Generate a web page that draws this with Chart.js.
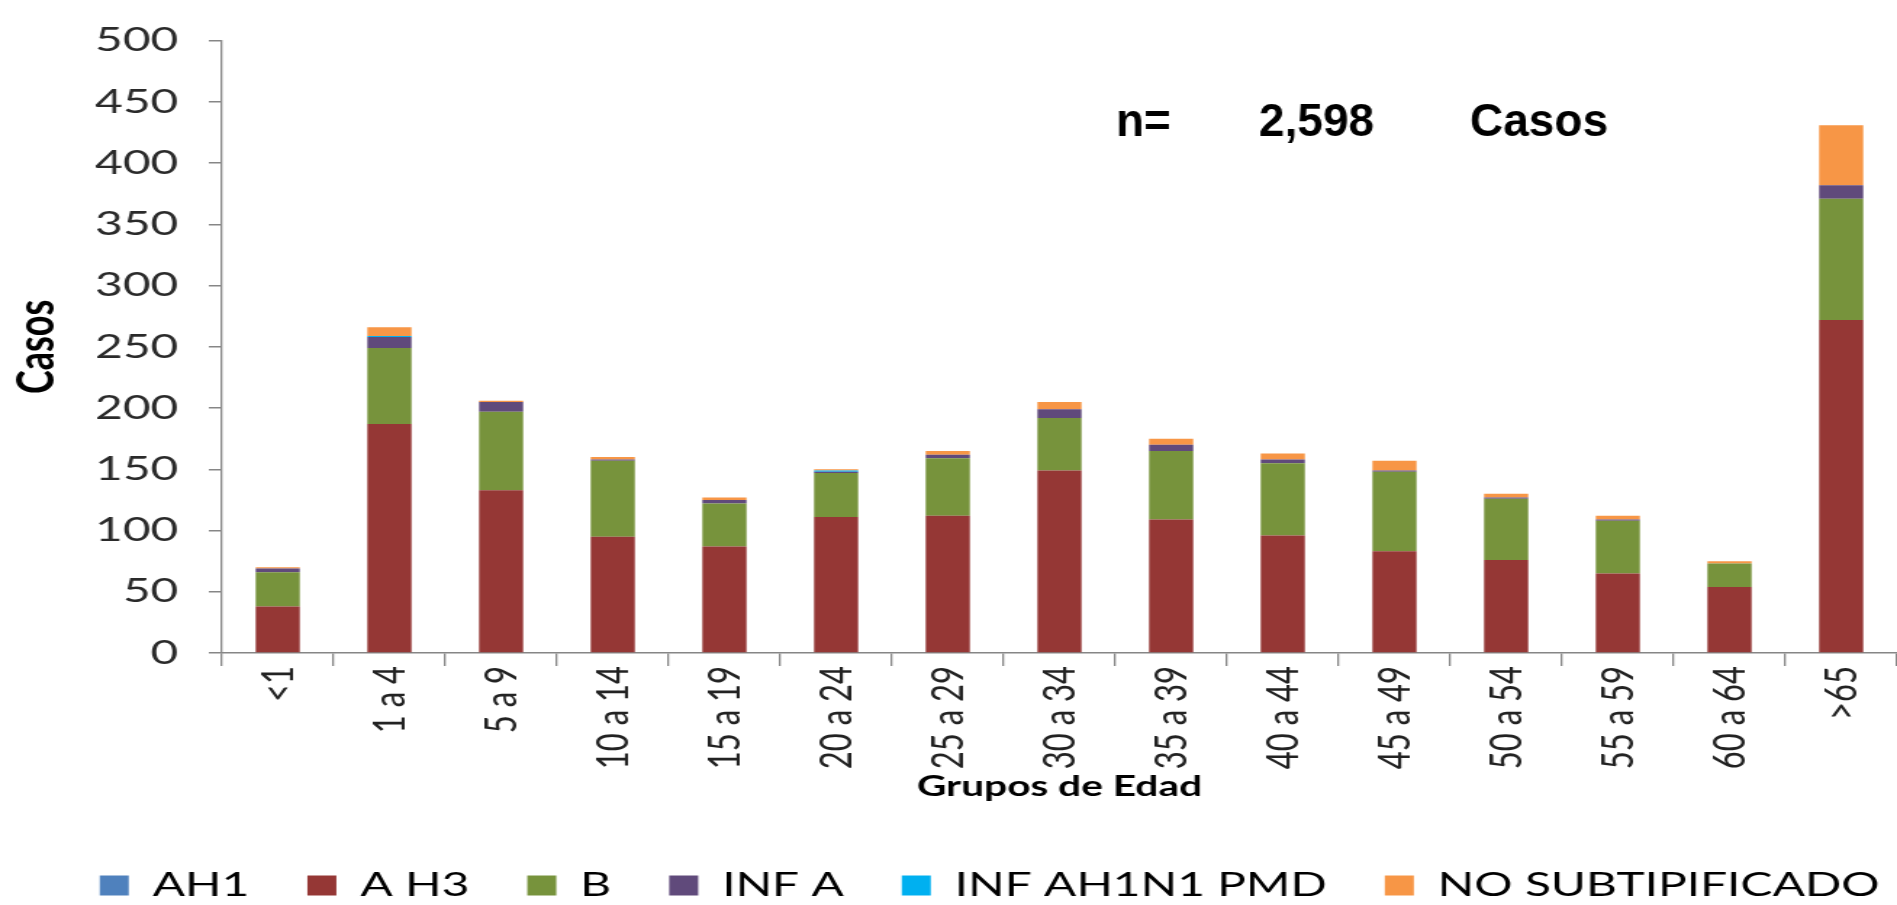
<!DOCTYPE html>
<html>
<head>
<meta charset="utf-8">
<title>Casos por grupos de edad</title>
<script src="https://cdn.jsdelivr.net/npm/chart.js@4.4.1/dist/chart.umd.min.js"></script>
<style>
  html, body { margin: 0; padding: 0; background: #fff; overflow: hidden; }
  /* the original picture is a horizontally stretched chart, so the canvas is drawn narrow and stretched */
  #chart { width: 1897px !important; height: 905px !important; display: block; }
</style>
</head>
<body>
<canvas id="chart" width="1308" height="905" style="width:1897px;height:905px"></canvas>
<script>
// data
const grupos = ['<1', '1 a 4', '5 a 9', '10 a 14', '15 a 19', '20 a 24', '25 a 29', '30 a 34',
                '35 a 39', '40 a 44', '45 a 49', '50 a 54', '55 a 59', '60 a 64', '>65'];
const ah1      = [0, 0, 0, 0, 0, 0, 0, 0, 0, 0, 0, 0, 0, 0, 0];
const ah3      = [38, 187, 133, 95, 87, 111, 112, 149, 109, 96, 83, 76, 65, 54, 272];
const tipoB    = [28, 62, 64, 62, 35, 36, 47, 43, 56, 59, 65, 50, 43, 19, 99];
const infA     = [3, 9, 8, 1, 3, 1, 3, 7, 5, 3, 1, 1, 1, 0, 11];
const ah1n1Pmd = [0, 1, 0, 0, 0, 1, 0, 0, 0, 0, 0, 0, 0, 0, 0];
const noSubtip = [1, 7, 1, 2, 2, 1, 3, 6, 5, 5, 8, 3, 3, 2, 49];
const yTicks   = [0, 50, 100, 150, 200, 250, 300, 350, 400, 450, 500];
const totalCasos = '2,598';

const STRETCH = 1897 / 1308;

// "n= 2,598 Casos" is not stretched in the original, so undo the stretch for it
const nLabel = {
    id: 'nLabel',
    afterDraw(chart) {
        const ctx = chart.ctx;
        ctx.save();
        ctx.scale(1 / STRETCH, 1);
        ctx.font = 'bold 46px "Liberation Sans", Arial, sans-serif';
        ctx.fillStyle = '#000';
        ctx.textBaseline = 'alphabetic';
        ctx.fillText('n=', 1116, 136);
        ctx.fillText(totalCasos, 1259, 136);
        ctx.fillText('Casos', 1470, 136);
        ctx.restore();
    }
};

// the legend row sits a bit right of centre, ending at the right edge
const legendShift = {
    id: 'legendShift',
    afterLayout(chart) {
        chart.legend.left += 28;
        chart.legend.right += 28;
    }
};

const axisGrey = '#868686';

new Chart(document.getElementById('chart'), {
    type: 'bar',
    data: {
        labels: grupos,
        datasets: [
            { label: 'AH1', data: ah1, backgroundColor: '#4F81BD' },
            { label: 'A H3', data: ah3, backgroundColor: '#953735' },
            { label: 'B', data: tipoB, backgroundColor: '#77933C' },
            { label: 'INF A', data: infA, backgroundColor: '#604A7B' },
            { label: 'INF AH1N1 PMD', data: ah1n1Pmd, backgroundColor: '#00B0F0' },
            { label: 'NO SUBTIPIFICADO', data: noSubtip, backgroundColor: '#F79646' }
        ]
    },
    options: {
        responsive: false,
        animation: false,
        devicePixelRatio: 1,
        datasets: { bar: { barPercentage: 0.395, categoryPercentage: 1 } },
        layout: { padding: { top: 38, right: 0, left: 0, bottom: 0 } },
        plugins: {
            tooltip: { enabled: false },
            legend: {
                position: 'bottom',
                align: 'end',
                maxHeight: 76,
                labels: {
                    font: { family: 'Lato', size: 33 },
                    color: '#000',
                    boxWidth: 20,
                    boxHeight: 20,
                    padding: 40
                }
            }
        },
        scales: {
            x: {
                stacked: true,
                afterFit(scale) { scale.height = 176; },
                grid: { offset: true, drawOnChartArea: false, tickLength: 13, color: axisGrey, lineWidth: 1.3 },
                border: { color: axisGrey, width: 1.5 },
                ticks: {
                    minRotation: 90,
                    maxRotation: 90,
                    padding: 0,
                    color: '#222',
                    font: { family: 'Lato', size: 31 }
                },
                title: {
                    display: true,
                    text: 'Grupos de Edad',
                    color: '#000',
                    font: { family: 'Lato', size: 28, weight: 'bold' },
                    padding: { top: 0, bottom: 25 }
                }
            },
            y: {
                stacked: true,
                min: 0,
                max: 500,
                afterFit(scale) { scale.width = 153; },
                afterBuildTicks(scale) { scale.ticks = yTicks.map(v => ({ value: v })); },
                grid: { drawOnChartArea: false, tickLength: 9, color: axisGrey, lineWidth: 1.5 },
                border: { color: axisGrey, width: 1.3 },
                ticks: {
                    padding: 21,
                    color: '#2a2a2a',
                    font: { family: 'Lato', size: 33 }
                },
                title: {
                    display: true,
                    text: 'Casos',
                    color: '#000',
                    font: { family: 'Lato', size: 36, weight: 'bold' },
                    padding: { top: 4, bottom: 0 }
                }
            }
        }
    },
    plugins: [nLabel, legendShift]
});
</script>
</body>
</html>
